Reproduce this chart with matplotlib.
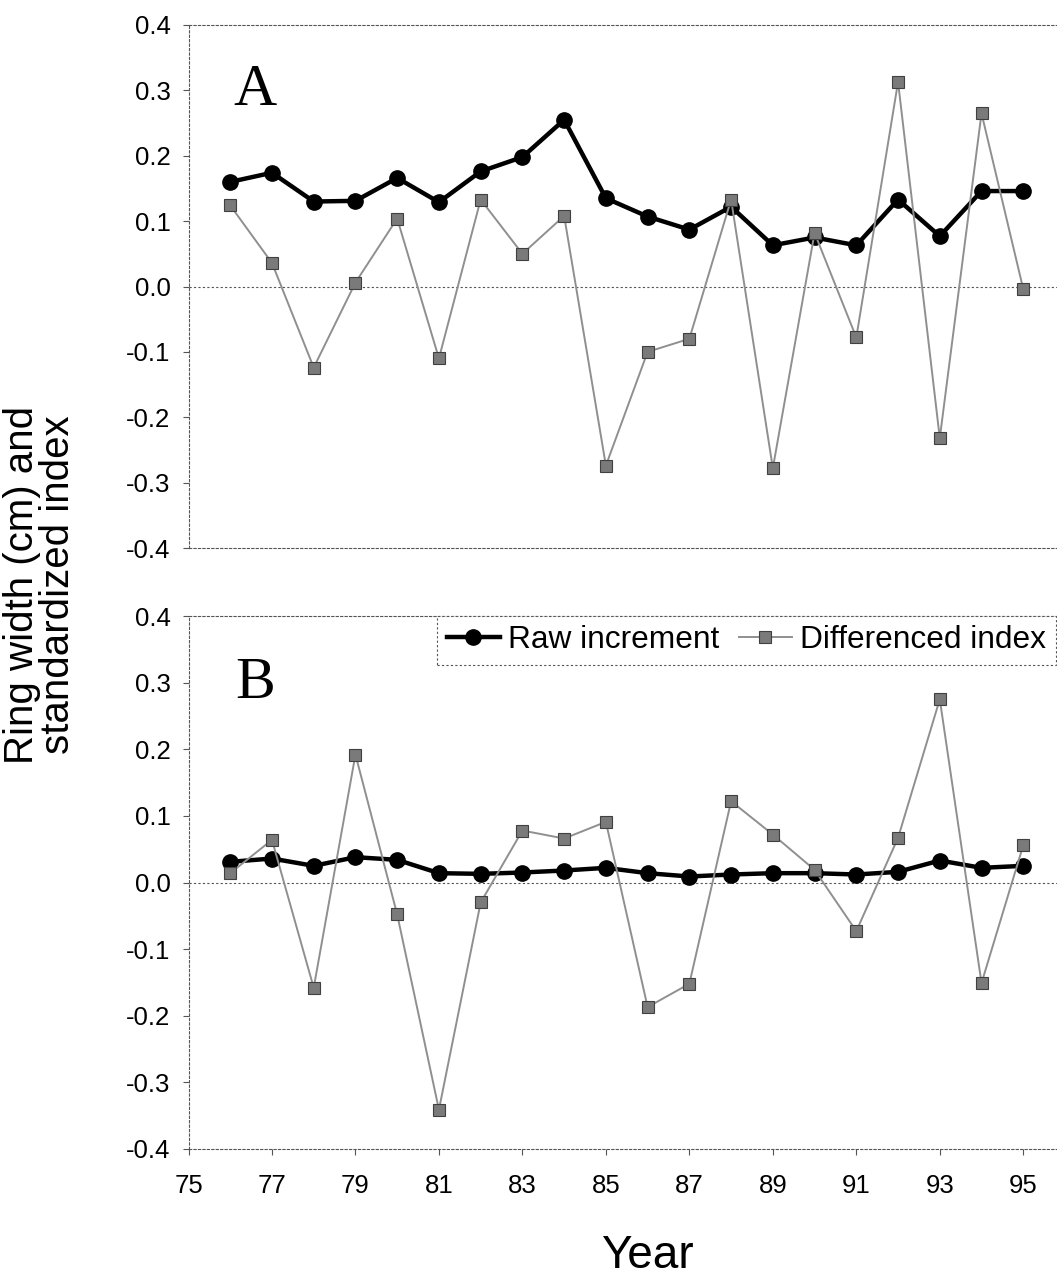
import matplotlib
matplotlib.use("Agg")
import matplotlib.pyplot as plt
from matplotlib.ticker import FixedLocator, FixedFormatter

plt.rcParams['font.family'] = ['Liberation Sans', 'DejaVu Sans']
plt.rcParams['axes.unicode_minus'] = False

years = [76, 77, 78, 79, 80, 81, 82, 83, 84, 85, 86, 87, 88, 89, 90, 91, 92, 93, 94, 95]

raw_a = [0.160, 0.174, 0.130, 0.131, 0.166, 0.129, 0.176, 0.198, 0.255, 0.135,
         0.107, 0.087, 0.122, 0.063, 0.075, 0.063, 0.133, 0.077, 0.146, 0.146]
diff_a = [0.124, 0.036, -0.124, 0.006, 0.104, -0.110, 0.133, 0.050, 0.108, -0.274,
          -0.100, -0.080, 0.133, -0.278, 0.082, -0.078, 0.313, -0.232, 0.265, -0.004]

raw_b = [0.031, 0.036, 0.025, 0.038, 0.034, 0.014, 0.013, 0.015, 0.018, 0.022,
         0.014, 0.009, 0.012, 0.014, 0.014, 0.012, 0.016, 0.033, 0.022, 0.025]
diff_b = [0.014, 0.064, -0.158, 0.192, -0.048, -0.341, -0.030, 0.078, 0.066, 0.091,
          -0.187, -0.152, 0.122, 0.072, 0.019, -0.073, 0.067, 0.275, -0.151, 0.056]

y_ticks = [-0.4, -0.3, -0.2, -0.1, 0.0, 0.1, 0.2, 0.3, 0.4]
y_tick_labels = ["-0.4", "-0.3", "-0.2", "-0.1", "0.0", "0.1", "0.2", "0.3", "0.4"]
x_ticks = [75, 77, 79, 81, 83, 85, 87, 89, 91, 93, 95]
x_tick_labels = ["75", "77", "79", "81", "83", "85", "87", "89", "91", "93", "95"]

series_names = ["Raw increment", "Differenced index"]
panel_labels = ["A", "B"]

W, H = 1057, 1276
fig = plt.figure(figsize=(W / 100, H / 100), dpi=100)

left = 188.5 / W
width = (1065 - 188.5) / W
axA = fig.add_axes([left, (H - 548) / H, width, 523 / H])
axB = fig.add_axes([left, (H - 1149) / H, width, 533 / H])

spine_color = "#555555"
for ax, raw, diff, lab in [(axA, raw_a, diff_a, panel_labels[0]),
                           (axB, raw_b, diff_b, panel_labels[1])]:
    ax.set_xlim(75, 96)
    ax.set_ylim(-0.4, 0.4)
    ax.axhline(0, color=spine_color, lw=0.8, ls=(0, (2, 2)), zorder=1)
    ax.plot(years, raw, color="black", lw=3.2, marker="o", ms=11,
            mfc="black", mec="black", label=series_names[0], zorder=3)
    ax.plot(years, diff, color="#8f8f8f", lw=1.4, marker="s", ms=8,
            mfc="#7a7a7a", mec="#404040", mew=0.8, label=series_names[1], zorder=4)
    for s in ["left", "top", "bottom"]:
        ax.spines[s].set_color(spine_color)
        ax.spines[s].set_linewidth(0.8)
        ax.spines[s].set_linestyle((0, (2, 2)))
    ax.spines["right"].set_visible(False)
    ax.yaxis.set_major_locator(FixedLocator(y_ticks))
    ax.yaxis.set_major_formatter(FixedFormatter(y_tick_labels))
    ax.tick_params(axis="y", direction="out", length=4, width=0.8,
                   color=spine_color, labelsize=18.5, pad=9)
    ax.text(76.6, 0.277, lab, family=["Liberation Serif", "DejaVu Serif"],
            fontsize=43, ha="center", va="baseline")

axA.xaxis.set_major_locator(FixedLocator(x_ticks))
axA.tick_params(axis="x", length=0, labelbottom=False)
axB.xaxis.set_major_locator(FixedLocator(x_ticks))
axB.xaxis.set_major_formatter(FixedFormatter(x_tick_labels))
axB.tick_params(axis="x", direction="out", length=4, width=0.8,
                color=spine_color, labelsize=18.5, pad=14)

leg = axB.legend(loc="upper left", bbox_to_anchor=((437 - 188.5) / (1065 - 188.5), 1.0),
                 ncol=2, fontsize=22.8, frameon=True, fancybox=False, borderaxespad=0,
                 handlelength=1.7, handletextpad=0.25, columnspacing=0.6,
                 borderpad=0.3)
fr = leg.get_frame()
fr.set_edgecolor(spine_color)
fr.set_linestyle((0, (2, 2)))
fr.set_linewidth(0.8)
fr.set_facecolor("white")
fr.set_alpha(1)

fig.text(40 / W, 1 - 585 / H, "Ring width (cm) and\nstandardized index",
         rotation=90, ha="center", va="center", fontsize=29, linespacing=0.92)
fig.text(647 / W, 1 - 1256 / H, "Year", ha="center", va="center", fontsize=33)

fig.savefig("out.png", dpi=100)
